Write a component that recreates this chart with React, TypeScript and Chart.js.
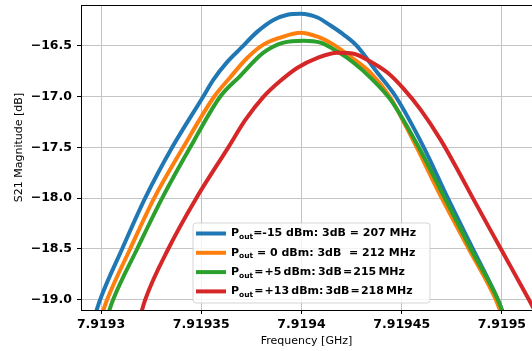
import React, { useEffect, useRef } from "react";
import { Chart, registerables } from "chart.js";

Chart.register(...registerables);

// Frequencies in GHz, magnitudes in dB
const blueFreq = [7.919297, 7.9192995, 7.9193105, 7.919322, 7.9193355, 7.919351, 7.919356, 7.919363, 7.9193695, 7.919378, 7.919386, 7.919393, 7.9193995, 7.919408, 7.9194145, 7.919421, 7.9194275, 7.9194375, 7.919447, 7.919461, 7.919473, 7.9194855, 7.919498, 7.9195005];
const blueMag = [-19.15, -19.0, -18.5, -18.0, -17.5, -17.0, -16.836, -16.66, -16.53, -16.362, -16.247, -16.196, -16.186, -16.223, -16.302, -16.391, -16.5, -16.757, -17.0, -17.5, -18.0, -18.5, -19.0, -19.128];

const orangeFreq = [7.9192995, 7.919303, 7.9193145, 7.9193265, 7.919341, 7.9193565, 7.9193645, 7.919373, 7.919381, 7.9193895, 7.9193995, 7.919408, 7.919416, 7.9194245, 7.9194345, 7.919444, 7.919451, 7.9194575, 7.91947, 7.9194835, 7.919497, 7.9194995];
const orangeMag = [-19.2, -19.0, -18.5, -18.0, -17.5, -17.0, -16.81, -16.619, -16.49, -16.42, -16.372, -16.411, -16.49, -16.609, -16.767, -17.0, -17.251, -17.5, -18.0, -18.5, -19.0, -19.128];

const greenFreq = [7.9193025, 7.919306, 7.919318, 7.9193305, 7.9193445, 7.9193595, 7.919369, 7.919381, 7.919391, 7.919401, 7.9194095, 7.919418, 7.919426, 7.9194345, 7.9194445, 7.9194585, 7.9194715, 7.9194845, 7.919498, 7.9195005];
const greenMag = [-19.2, -19.0, -18.5, -18.0, -17.5, -17.0, -16.806, -16.569, -16.47, -16.451, -16.47, -16.559, -16.668, -16.816, -17.034, -17.5, -18.0, -18.5, -19.0, -19.128];

const redFreq = [7.9193195, 7.919322, 7.9193335, 7.9193475, 7.9193635, 7.919372, 7.919381, 7.9193895, 7.919398, 7.919408, 7.919418, 7.919426, 7.9194345, 7.919443, 7.919451, 7.9194595, 7.9194695, 7.919478, 7.9194855, 7.9194995, 7.9195135, 7.919517];
const redMag = [-19.168, -19.0, -18.5, -18.0, -17.5, -17.231, -17.004, -16.846, -16.717, -16.619, -16.569, -16.579, -16.658, -16.767, -16.925, -17.132, -17.429, -17.725, -18.0, -18.5, -19.0, -19.128];

const seriesLabels = [
  "P_out=-15 dBm: 3dB = 207 MHz",
  "P_out = 0 dBm: 3dB  = 212 MHz",
  "P_out\u200a=\u200a+5\u2009dBm:\u20093dB\u200a=\u200a215\u2009MHz",
  "P_out\u200a=\u200a+13\u2009dBm:\u20093dB\u200a=\u200a218\u2009MHz",
];
const seriesColors = ["#1f77b4", "#ff7f0e", "#2ca02c", "#d62728"];

const xTicks = [7.9193, 7.91935, 7.9194, 7.91945, 7.9195];
const yTicks = [-19.0, -18.5, -18.0, -17.5, -17.0, -16.5];

const xTitle = "Frequency [GHz]";
const yTitle = "S21 Magnitude [dB]";

const FONT = "'DejaVu Sans', sans-serif";

const zip = (xs: number[], ys: number[]) => xs.map((x, i) => ({ x, y: ys[i] }));

const decorPlugin = {
  id: "decor",
  afterDatasetsDraw(chart: any) {
    const { ctx, chartArea } = chart;
    ctx.save();
    // top spine
    ctx.strokeStyle = "#000";
    ctx.lineWidth = 1;
    ctx.beginPath();
    ctx.moveTo(chartArea.left, chartArea.top + 0.5);
    ctx.lineTo(chartArea.right, chartArea.top + 0.5);
    ctx.stroke();

    // legend
    const left = chartArea.left + 112;
    const top = chartArea.bottom - 87;
    const w = 237;
    const h = 80;
    const r = 3;
    ctx.beginPath();
    ctx.moveTo(left + r, top);
    ctx.lineTo(left + w - r, top);
    ctx.arcTo(left + w, top, left + w, top + r, r);
    ctx.lineTo(left + w, top + h - r);
    ctx.arcTo(left + w, top + h, left + w - r, top + h, r);
    ctx.lineTo(left + r, top + h);
    ctx.arcTo(left, top + h, left, top + h - r, r);
    ctx.lineTo(left, top + r);
    ctx.arcTo(left, top, left + r, top, r);
    ctx.closePath();
    ctx.fillStyle = "rgba(255,255,255,0.8)";
    ctx.fill();
    ctx.strokeStyle = "rgba(204,204,204,0.8)";
    ctx.lineWidth = 1;
    ctx.stroke();

    chart.data.datasets.forEach((ds: any, i: number) => {
      const cy = top + 10.5 + i * 19.3;
      ctx.strokeStyle = ds.borderColor;
      ctx.lineWidth = 4;
      ctx.lineCap = "butt";
      ctx.beginPath();
      ctx.moveTo(left + 3, cy);
      ctx.lineTo(left + 33, cy);
      ctx.stroke();

      const label: string = ds.label;
      let x = left + 38;
      ctx.fillStyle = "#000";
      ctx.textBaseline = "middle";
      ctx.textAlign = "left";
      const big = `bold 11px ${FONT}`;
      if (label.startsWith("P_out")) {
        ctx.font = big;
        ctx.fillText("P", x, cy);
        x += ctx.measureText("P").width;
        ctx.font = `bold 7.5px ${FONT}`;
        ctx.fillText("out", x, cy + 3.5);
        x += ctx.measureText("out").width;
        ctx.font = big;
        ctx.fillText(label.slice(5), x, cy);
      } else {
        ctx.font = big;
        ctx.fillText(label, x, cy);
      }
    });

    ctx.restore();
  },
  afterDraw(chart: any) {
    const { ctx, chartArea } = chart;
    ctx.save();
    ctx.fillStyle = "#000";
    ctx.font = `11px ${FONT}`;
    ctx.textAlign = "center";
    ctx.textBaseline = "middle";
    ctx.fillText(xTitle, (chartArea.left + chartArea.right) / 2, 341);
    ctx.translate(19, 147.5);
    ctx.rotate(-Math.PI / 2);
    ctx.fillText(yTitle, 0, 0);
    ctx.restore();
  },
};

export default function App() {
  const ref = useRef<HTMLCanvasElement>(null);
  useEffect(() => {
    if (!ref.current) return;
    const freqs = [blueFreq, orangeFreq, greenFreq, redFreq];
    const mags = [blueMag, orangeMag, greenMag, redMag];
    const chart = new Chart(ref.current, {
      type: "line",
      data: {
        datasets: seriesLabels.map((label, i) => ({
          label,
          data: zip(freqs[i], mags[i]),
          borderColor: seriesColors[i],
          backgroundColor: seriesColors[i],
          borderWidth: 4,
          pointRadius: 0,
          cubicInterpolationMode: "monotone",
          fill: false,
          order: 3 - i,
        })),
      },
      options: {
        responsive: false,
        animation: false,
        devicePixelRatio: 1,
        layout: { padding: { top: 5, left: 0, right: 0, bottom: 0 } },
        plugins: { legend: { display: false }, tooltip: { enabled: false } },
        scales: {
          x: {
            type: "linear",
            min: 7.91929,
            max: 7.919515,
            afterBuildTicks: (s: any) => {
              s.ticks = xTicks.map((v) => ({ value: v }));
            },
            afterFit: (s: any) => {
              s.height = 41;
              s.paddingLeft = 0;
              s.paddingRight = 0;
            },
            ticks: {
              color: "#000",
              font: { family: FONT, size: 12.5, weight: "bold" },
              padding: 3,
              maxRotation: 0,
              autoSkip: false,
              callback: (v: any) => String(Number(v)),
            },
            grid: { color: "#c4c4c4", lineWidth: 1, tickLength: 4, tickColor: "#000" },
            border: { display: true, color: "#000", width: 1 },
          },
          y: {
            type: "linear",
            min: -19.1,
            max: -16.1,
            afterBuildTicks: (s: any) => {
              s.ticks = yTicks.map((v) => ({ value: v }));
            },
            afterFit: (s: any) => {
              s.width = 81;
              s.paddingTop = 0;
              s.paddingBottom = 0;
            },
            ticks: {
              color: "#000",
              font: { family: FONT, size: 12.5, weight: "bold" },
              padding: 5,
              autoSkip: false,
              callback: (v: any) => Number(v).toFixed(1).replace("-", "\u2212"),
            },
            grid: { color: "#c4c4c4", lineWidth: 1, tickLength: 4, tickColor: "#000" },
            border: { display: true, color: "#000", width: 1 },
          },
        },
      },
      plugins: [decorPlugin],
    } as any);
    return () => chart.destroy();
  }, []);
  return (
    <div style={{ position: "fixed", left: 0, top: 0, width: 532, height: 351, background: "#fff" }}>
      <canvas ref={ref} width={532} height={351} style={{ width: 532, height: 351 }} />
    </div>
  );
}
